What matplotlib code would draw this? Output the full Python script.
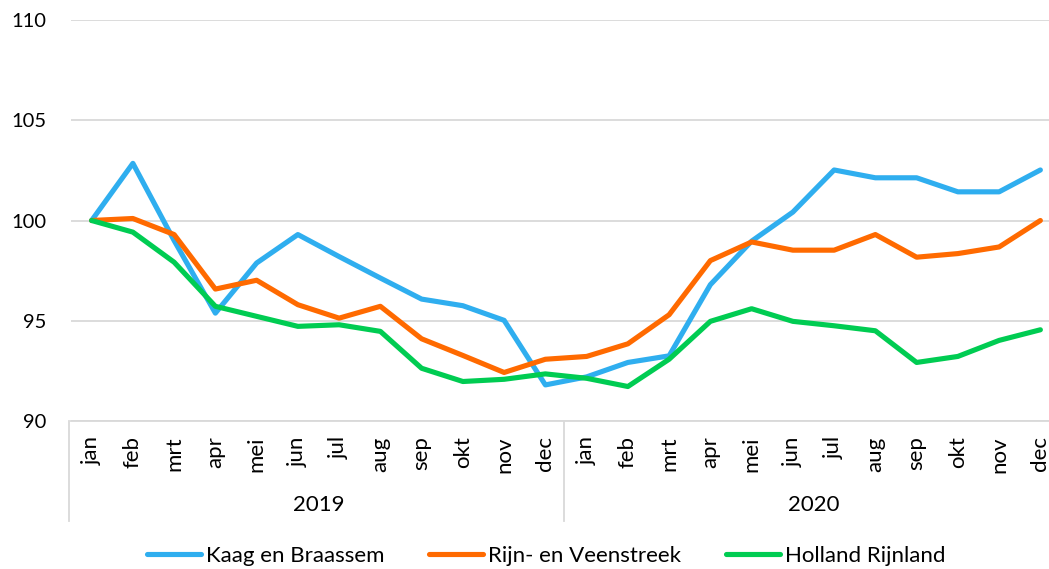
import matplotlib
matplotlib.use("Agg")
import matplotlib.pyplot as plt
import matplotlib.transforms as mtransforms

months = ["jan", "feb", "mrt", "apr", "mei", "jun", "jul", "aug", "sep", "okt", "nov", "dec"]
years = ["2019", "2020"]

kaag = [100.0, 102.85, 99.0, 95.38, 97.88, 99.3, 98.2, 97.13, 96.08, 95.75, 95.02, 91.8,
        92.2, 92.92, 93.25, 96.8, 98.97, 100.42, 102.52, 102.13, 102.13, 101.43, 101.43, 102.52]
rijn = [100.0, 100.1, 99.3, 96.58, 97.02, 95.8, 95.13, 95.72, 94.1, 93.27, 92.42, 93.08,
        93.22, 93.85, 95.3, 98.0, 98.93, 98.52, 98.52, 99.3, 98.17, 98.35, 98.68, 100.0]
holland = [100.0, 99.42, 97.92, 95.72, 95.22, 94.72, 94.8, 94.47, 92.63, 91.97, 92.08, 92.35,
           92.13, 91.72, 93.08, 94.97, 95.6, 94.97, 94.75, 94.5, 92.92, 93.22, 94.02, 94.55]

series_names = ["Kaag en Braassem", "Rijn- en Veenstreek", "Holland Rijnland"]
colors = ["#2FAEEF", "#FF6A00", "#00CC52"]

FONT = "Lato"
W, H = 1049, 569
fig = plt.figure(figsize=(W / 100, H / 100), dpi=100)
left, right, top, bottom = 71, 1061, 20, 421
ax = fig.add_axes([left / W, 1 - bottom / H, (right - left) / W, (bottom - top) / H])

x = list(range(len(months) * len(years)))
for vals, name, c in zip([kaag, rijn, holland], series_names, colors):
    ax.plot(x, vals, color=c, lw=3.7, label=name, solid_capstyle="round", solid_joinstyle="round", zorder=3)

ax.set_xlim(-0.5, len(x) - 0.5)
ax.set_ylim(90, 110)
ax.set_yticks([90, 95, 100, 105, 110])
ax.yaxis.grid(True, color="#D9D9D9", lw=1.3)
ax.set_axisbelow(True)
for s in ["top", "right", "left"]:
    ax.spines[s].set_visible(False)
ax.spines["bottom"].set_color("#D9D9D9")
ax.spines["bottom"].set_linewidth(1.3)
ax.tick_params(axis="y", length=0, pad=18, labelsize=14.5)
ax.tick_params(axis="x", length=0, pad=11, labelsize=16)
for lab in ax.get_yticklabels():
    lab.set_fontfamily(FONT)

ax.set_xticks(x)
ax.set_xticklabels(months * len(years), rotation=90, fontfamily=FONT)

trans = mtransforms.blended_transform_factory(ax.transData, ax.transAxes)
depth = -(521 - 421) / (bottom - top)
for b in [-0.5, 11.5]:
    ax.plot([b - 0.05, b - 0.05], [0, depth], transform=trans, color="#D9D9D9", lw=1.3, clip_on=False)
for i, yr in enumerate(years):
    ax.text(i * 12 + 5.5, -(505 - 421) / (bottom - top), yr, transform=trans, ha="center", va="center",
            fontsize=16, fontfamily=FONT)

fig.legend(loc="center", bbox_to_anchor=(546 / W, 1 - 556 / H), ncol=3, frameon=False,
           prop={"family": FONT, "size": 16}, handlelength=2.45, handletextpad=0.22, columnspacing=2.0)

fig.savefig("out.png", dpi=100)
